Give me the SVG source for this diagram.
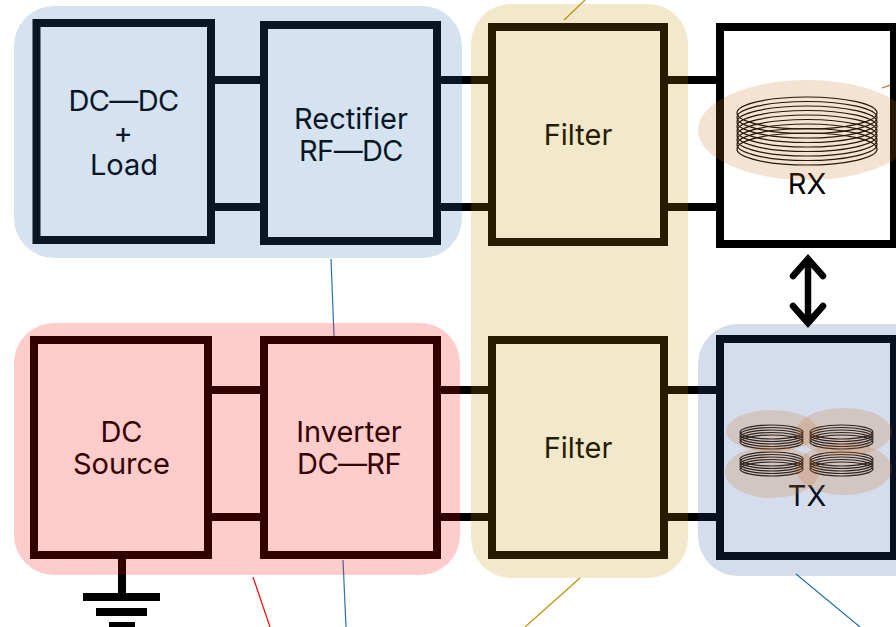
<svg xmlns="http://www.w3.org/2000/svg" width="896" height="627" viewBox="0 0 896 627">
<style>
.box{fill:none;stroke:#000;stroke-width:8}
.wire{fill:none;stroke:#000;stroke-width:8}
.thin{fill:none;stroke-width:1.2}
.c{fill:none;stroke:#000;stroke-width:1.2}
.halo{fill:#c87020;fill-opacity:.2}
.dash{letter-spacing:-.6px}
text{font-family:"Inter","Noto Sans",sans-serif;font-size:29px;fill:#000;text-anchor:middle}
</style>
<defs>
<g id="big"><ellipse class="c" cy="0" rx="70" ry="16"/><ellipse class="c" cy="4.5" rx="70" ry="16"/><ellipse class="c" cy="9" rx="70" ry="16"/><ellipse class="c" cy="13.5" rx="70" ry="16"/><ellipse class="c" cy="18" rx="70" ry="16"/><ellipse class="c" cy="22.500" rx="70" ry="16"/><ellipse class="c" cy="27" rx="70" ry="16"/><ellipse class="c" cy="31.5" rx="70" ry="16"/><ellipse class="c" cy="36" rx="70" ry="16"/></g>
<g id="small"><ellipse class="c" cy="0" rx="31.5" ry="7"/><ellipse class="c" cy="2.500" rx="31.5" ry="7"/><ellipse class="c" cy="5" rx="31.5" ry="7"/><ellipse class="c" cy="7.500" rx="31.5" ry="7"/><ellipse class="c" cy="10" rx="31.5" ry="7"/></g>
</defs>
<g id="connectors">
<path class="wire" d="M215 80H260M215 207H260M441 80H488M441 207H488M668 80H716M668 207H716M212 390H260M212 517H260M441 390H488M441 517H488M668 390H716M668 517H716"/>
<path class="wire" d="M122 559V597"/>
<path fill="none" stroke="#000" stroke-width="6.500" d="M808 259V323"/>
<path fill="none" stroke="#000" stroke-width="6.500" stroke-linecap="round" d="M793 276L808 259L823 276M793 306L808 323L823 306"/>
<path class="thin" stroke="#2d70b3" d="M331 259L334 336M343 560L346 627M796 574L860 627"/>
<path class="thin" stroke="#ff0000" d="M253 577L270 627"/>
<path class="thin" stroke="#c09000" d="M580 578L525 627M585 0L564 20"/>
<path class="thin" stroke="#c86a20" d="M882 88L896 83"/>
</g>
<g id="ground"><rect x="83" y="593" width="77" height="8"/><rect x="96" y="608" width="51" height="8"/><rect x="109" y="622" width="26" height="5"/></g>
<g id="dcdc"><rect class="box" x="36.500" y="23" width="174.500" height="217"/><text><tspan class="dash" x="123.500" y="110.500">DC—DC</tspan><tspan x="123" y="142.500">+</tspan><tspan x="124" y="174.500">Load</tspan></text></g>
<g id="rectifier"><rect class="box" x="264" y="25" width="173" height="216"/><text><tspan x="351" y="128.500">Rectifier</tspan><tspan class="dash" x="351" y="160.500">RF—DC</tspan></text></g>
<g id="filter-top"><rect class="box" x="492" y="27" width="172" height="215"/><text x="578" y="145">Filter</text></g>
<g id="rx"><rect class="box" x="720" y="27" width="174" height="217"/><use href="#big" x="807" y="113"/><text x="807" y="194">RX</text></g>
<g id="dcsource"><rect class="box" x="34" y="340" width="174" height="215"/><text><tspan x="121.500" y="442">DC</tspan><tspan x="121.500" y="474">Source</tspan></text></g>
<g id="inverter"><rect class="box" x="264" y="340" width="173" height="215"/><text><tspan x="349" y="442">Inverter</tspan><tspan class="dash" x="349" y="474">DC—RF</tspan></text></g>
<g id="filter-bottom"><rect class="box" x="492" y="340" width="172" height="215"/><text x="578" y="458">Filter</text></g>
<g id="tx"><rect class="box" x="720" y="339" width="174" height="217"/><use href="#small" x="771.500" y="432"/><use href="#small" x="841.500" y="432"/><use href="#small" x="771.500" y="459"/><use href="#small" x="841.500" y="459"/><text x="807" y="506">TX</text></g>
<g id="overlays">
<rect x="14" y="6" width="448" height="252" rx="40" fill="#2d70b3" fill-opacity=".2"/>
<rect x="14" y="323" width="446" height="252" rx="40" fill="#ff0000" fill-opacity=".2"/>
<rect x="471" y="4" width="217" height="574" rx="40" fill="#c09000" fill-opacity=".2"/>
<rect x="698" y="324" width="250" height="252" rx="40" fill="#2d4f9f" fill-opacity=".2"/>
<ellipse class="halo" cx="807" cy="130" rx="109" ry="50"/>
<ellipse class="halo" cx="772" cy="431" rx="46" ry="21"/>
<ellipse class="halo" cx="844" cy="432" rx="48" ry="24"/>
<ellipse class="halo" cx="772" cy="472" rx="47" ry="26"/>
<ellipse class="halo" cx="844" cy="469" rx="48" ry="26"/>
</g>
</svg>
